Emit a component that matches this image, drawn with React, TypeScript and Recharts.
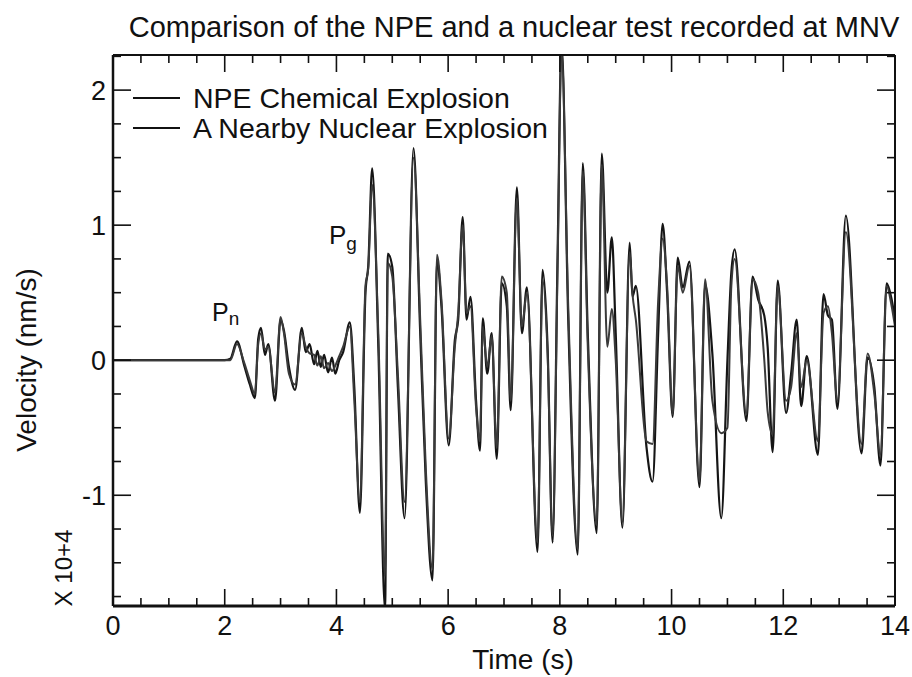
import React from 'react';
import { LineChart, Line, XAxis, YAxis, Legend } from 'recharts';

const FONT = '"Liberation Sans", Arial, Helvetica, sans-serif';
const INK = '#111';

const seriesNames = ['NPE Chemical Explosion', 'A Nearby Nuclear Explosion'];

// time (s) of each sample
const times = [
  0, 0.5, 1, 1.5, 2, 2.1, 2.22, 2.35, 2.45, 2.54,
  2.6, 2.65, 2.72, 2.78, 2.9, 3, 3.06, 3.15, 3.26, 3.38,
  3.45, 3.52, 3.6, 3.66, 3.72, 3.78, 3.85, 3.92, 3.98, 4.05,
  4.12, 4.24, 4.32, 4.42, 4.52, 4.57, 4.64, 4.75, 4.87, 4.92,
  5.0, 5.1, 5.22, 5.38, 5.5, 5.6, 5.72, 5.8, 5.88, 6.01,
  6.12, 6.18, 6.26, 6.33, 6.4, 6.5, 6.57, 6.62, 6.7, 6.78,
  6.87, 6.96, 7.05, 7.12, 7.23, 7.32, 7.41, 7.6, 7.69, 7.78,
  7.87, 7.96, 8.03, 8.15, 8.32, 8.41, 8.5, 8.66, 8.75, 8.85,
  8.93, 9.0, 9.12, 9.25, 9.3, 9.36, 9.55, 9.66, 9.76, 9.84,
  9.92, 10.02, 10.11, 10.2, 10.32, 10.5, 10.6, 10.73, 10.89, 11.0,
  11.07, 11.13, 11.34, 11.45, 11.55, 11.66, 11.72, 11.81, 11.9, 12.05,
  12.14, 12.24, 12.32, 12.42, 12.62, 12.72, 12.8, 12.87, 12.97, 13.12,
  13.4, 13.51, 13.63, 13.74, 13.85, 13.94, 14,
];

// velocity (x 10^4 nm/s)
const npe = [
  0, 0, 0, 0, 0, 0.01, 0.14, -0.04, -0.18, -0.28,
  0.16, 0.24, 0.04, 0.12, -0.3, 0.3, 0.22, -0.05, -0.22, 0.24,
  0.06, 0.12, -0.03, 0.07, -0.05, 0.04, -0.09, 0.02, -0.1, 0,
  0.06, 0.28, -0.2, -1.13, 0.5, 0.7, 1.42, 0.1, -1.85, 0.79,
  0.69, -0.2, -1.17, 1.57, 0.2, -0.9, -1.63, 0.74, 0.4, -0.63,
  0.15, 0.3, 1.06, 0.3, 0.47, -0.3, -0.67, 0.31, -0.1, 0.2,
  -0.73, 0.57, 0.4, -0.37, 1.28, 0.2, 0.54, -1.42, 0.67, 0.1,
  -1.35, 0.8, 2.35, 0.3, -1.44, 1.46, 0.2, -1.28, 1.53, 0.5,
  0.91, 0.2, -1.24, 0.87, 0.47, 0.55, -0.64, -0.9, 0.2, 1.01,
  0.5, -0.42, 0.76, 0.54, 0.73, -0.94, 0.56, 0.05, -1.17, 0.0,
  0.65, 0.82, -0.45, 0.62, 0.45, 0.33, 0.1, -0.68, 0.59, -0.39,
  -0.1, 0.3, -0.34, 0.03, -0.7, 0.49, 0.33, 0.3, -0.36, 1.07,
  -0.69, 0.02, -0.2, -0.78, 0.57, 0.45, 0.3,
];

const nuclear = [
  0, 0, 0, 0, 0, 0, 0.12, -0.02, -0.15, -0.25,
  0.12, 0.2, 0.08, 0.1, -0.24, 0.32, 0.2, -0.1, -0.18, 0.2,
  0.1, 0.05, 0.04, -0.04, 0.03, -0.06, -0.02, -0.08, -0.04, 0.03,
  0.1, 0.25, -0.3, -1.05, 0.55, 0.68, 1.3, 0.2, -1.6, 0.72,
  0.62, -0.1, -1.05, 1.5, 0.3, -0.8, -1.55, 0.78, 0.45, -0.58,
  0.1, 0.35, 1.0, 0.35, 0.4, -0.35, -0.6, 0.25, -0.05, 0.18,
  -0.65, 0.62, 0.5, -0.3, 1.2, 0.25, 0.5, -1.35, 0.6, 0.05,
  -1.3, 0.7, 2.3, 0.4, -1.4, 1.4, 0.1, -1.22, 1.45, 0.1,
  0.38, 0.0, -1.2, 0.8, 0.49, 0.3, -0.6, -0.62, 0.44, 0.9,
  0.55, -0.4, 0.7, 0.5, 0.7, -0.9, 0.6, -0.3, -0.54, -0.5,
  0.55, 0.75, -0.4, 0.6, 0.5, 0.0, -0.38, -0.55, 0.55, -0.3,
  -0.2, 0.2, -0.2, 0.0, -0.6, 0.35, 0.4, 0.2, -0.3, 0.95,
  -0.62, 0.05, -0.25, -0.7, 0.55, 0.4, 0.25,
];

const xTicks = [0, 0.5, 1, 1.5, 2, 2.5, 3, 3.5, 4, 4.5, 5, 5.5, 6, 6.5, 7, 7.5, 8, 8.5, 9, 9.5, 10, 10.5, 11, 11.5, 12, 12.5, 13, 13.5, 14];
const yTicks = [-1.75, -1.5, -1.25, -1, -0.75, -0.5, -0.25, 0, 0.25, 0.5, 0.75, 1, 1.25, 1.5, 1.75, 2, 2.25];

const rows = times.map((t, i) => ({ t, npe: npe[i], nuclear: nuclear[i] }));

const isMajor = (v: number, step: number) => Math.abs(v / step - Math.round(v / step)) < 1e-6;

const BottomTick = ({ x, y, payload }: any) => {
  const major = isMajor(payload.value, 2);
  return (
    <g>
      <line x1={x} y1={y} x2={x} y2={y - (major ? 17 : 8)} stroke={INK} strokeWidth={1.6} />
      {major && (
        <text x={x} y={y + 29} textAnchor="middle" fontSize={27} fontFamily={FONT} fill={INK}>
          {payload.value}
        </text>
      )}
    </g>
  );
};

const TopTick = ({ x, y, payload }: any) => {
  const major = isMajor(payload.value, 2);
  return <line x1={x} y1={y} x2={x} y2={y + (major ? 17 : 8)} stroke={INK} strokeWidth={1.6} />;
};

const LeftTick = ({ x, y, payload }: any) => {
  const major = isMajor(payload.value, 1);
  return (
    <g>
      <line x1={x} y1={y} x2={x + (major ? 18 : 8)} y2={y} stroke={INK} strokeWidth={1.6} />
      {major && (
        <text x={x - 7} y={y + 10} textAnchor="end" fontSize={27} fontFamily={FONT} fill={INK}>
          {payload.value}
        </text>
      )}
    </g>
  );
};

const RightTick = ({ x, y, payload }: any) => {
  const major = isMajor(payload.value, 1);
  return <line x1={x} y1={y} x2={x - (major ? 18 : 8)} y2={y} stroke={INK} strokeWidth={1.6} />;
};

const LegendBox = () => (
  <svg width={460} height={62}>
    {seriesNames.map((name, i) => (
      <g key={name}>
        <line x1={5} y1={16 + i * 30} x2={52} y2={16 + i * 30} stroke={INK} strokeWidth={2} />
        <text x={65} y={26 + i * 30} fontSize={28.5} fontFamily={FONT} fill={INK}>
          {name}
        </text>
      </g>
    ))}
  </svg>
);

export default function App() {
  return (
    <div style={{ position: 'absolute', left: 0, top: 0, width: 912, height: 677, background: '#fff' }}>
      <LineChart width={912} height={677} data={rows} margin={{ top: 45, right: 7, bottom: 31, left: 73 }}>
        <XAxis
          dataKey="t"
          type="number"
          domain={[0, 14]}
          ticks={xTicks}
          interval={0}
          height={40}
          tickSize={0}
          tickMargin={0}
          tickLine={false}
          tick={<BottomTick />}
          axisLine={{ stroke: INK, strokeWidth: 3 }}
        />
        <XAxis
          xAxisId="top"
          orientation="top"
          dataKey="t"
          type="number"
          domain={[0, 14]}
          ticks={xTicks}
          interval={0}
          height={10}
          tickSize={0}
          tickMargin={0}
          tickLine={false}
          tick={<TopTick />}
          axisLine={{ stroke: INK, strokeWidth: 2 }}
        />
        <YAxis
          type="number"
          domain={[-1.82, 2.26]}
          allowDataOverflow
          ticks={yTicks}
          interval={0}
          width={40}
          tickSize={0}
          tickMargin={0}
          tickLine={false}
          tick={<LeftTick />}
          axisLine={{ stroke: INK, strokeWidth: 2.5 }}
        />
        <YAxis
          yAxisId="right"
          orientation="right"
          type="number"
          domain={[-1.82, 2.26]}
          allowDataOverflow
          ticks={yTicks}
          interval={0}
          width={10}
          tickSize={0}
          tickMargin={0}
          tickLine={false}
          tick={<RightTick />}
          axisLine={{ stroke: INK, strokeWidth: 2 }}
        />
        <Legend
          layout="horizontal"
          verticalAlign="middle"
          align="center"
          content={<LegendBox />}
          wrapperStyle={{ left: 128, top: 82, width: 460, height: 62 }}
        />
        <Line
          name={seriesNames[0]}
          type="monotone"
          dataKey="npe"
          stroke="#151515"
          strokeWidth={2.2}
          dot={false}
          isAnimationActive={false}
        />
        <Line
          name={seriesNames[1]}
          xAxisId="top"
          yAxisId="right"
          type="monotone"
          dataKey="nuclear"
          stroke="#3a3a3a"
          strokeWidth={2}
          dot={false}
          isAnimationActive={false}
        />
      </LineChart>
      <svg
        width={912}
        height={677}
        style={{ position: 'absolute', left: 0, top: 0, pointerEvents: 'none' }}
        fontFamily={FONT}
        fill={INK}
      >
        <text x={514} y={37} textAnchor="middle" fontSize={29}>
          Comparison of the NPE and a nuclear test recorded at MNV
        </text>
        <text x={523} y={669} textAnchor="middle" fontSize={28}>
          Time (s)
        </text>
        <text x={36} y={360} textAnchor="middle" fontSize={28} transform="rotate(-90 36 360)">
          Velocity (nm/s)
        </text>
        <text x={72} y={568} textAnchor="middle" fontSize={24} transform="rotate(-90 72 568)">
          X 10+4
        </text>
        <text x={212} y={321} fontSize={25}>
          P<tspan dy={4} fontSize={19}>n</tspan>
        </text>
        <text x={329} y={244} fontSize={26}>
          P<tspan dy={6} fontSize={19}>g</tspan>
        </text>
      </svg>
    </div>
  );
}
